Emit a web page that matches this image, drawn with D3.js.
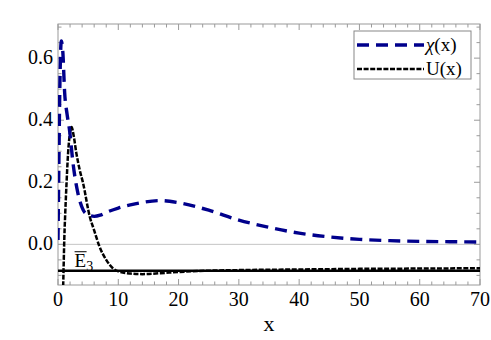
<!DOCTYPE html>
<html>
<head>
<meta charset="utf-8">
<script src="https://cdn.jsdelivr.net/npm/d3@7"></script>
<style>
  body { margin: 0; background: #fff; }
</style>
</head>
<body>
<div id="chart"></div>
<script>
// chi(x)
const chiX = [0, 0.15, 0.3, 0.55, 0.8, 1.1, 1.5, 1.9, 2.5, 3.3, 4.2, 5, 6, 7, 8, 10, 12, 14, 17, 20, 25, 30, 35, 40, 45, 50, 55, 60, 65, 70];
const chiY = [0.014, 0.27, 0.5, 0.655, 0.62, 0.49, 0.42, 0.37, 0.26, 0.165, 0.11, 0.095, 0.09, 0.094, 0.103, 0.117, 0.127, 0.135, 0.141, 0.134, 0.11, 0.078, 0.055, 0.036, 0.024, 0.016, 0.012, 0.0097, 0.0085, 0.0074];

// U(x)
const uX = [0.75, 0.9, 1.05, 1.2, 1.4, 1.66, 2.0, 2.25, 2.6, 3.05, 3.6, 4.15, 5.27, 6.0, 6.9, 8, 9.1, 10, 12, 14, 17, 20, 25, 30, 40, 50, 60, 70];
const uY = [-0.22, -0.1, 0.02, 0.1, 0.19, 0.29, 0.36, 0.378, 0.35, 0.293, 0.24, 0.198, 0.089, 0.045, -0.008, -0.05, -0.077, -0.087, -0.094, -0.096, -0.093, -0.089, -0.085, -0.083, -0.081, -0.079, -0.078, -0.077];

const e3 = -0.085;
const xTicks = [0, 10, 20, 30, 40, 50, 60, 70];
const yTicks = [0.0, 0.2, 0.4, 0.6];
const legendNames = ['\u03C7', 'U'];

const W = 491, H = 340;
const margin = { top: 24, right: 11, bottom: 55, left: 58 };
const width = W - margin.left - margin.right;
const height = H - margin.top - margin.bottom;
const serif = 'Liberation Serif';

const x = d3.scaleLinear().domain([0, 70]).range([0, width]);
const y = d3.scaleLinear().domain([-0.131, 0.71]).range([height, 0]);

const svg = d3.select('#chart').append('svg')
  .attr('width', W).attr('height', H);
const g = svg.append('g').attr('transform', `translate(${margin.left},${margin.top})`);

g.append('clipPath').attr('id', 'clip')
  .append('rect').attr('width', width).attr('height', height);

// zero line
g.append('line')
  .attr('x1', 0).attr('x2', width)
  .attr('y1', y(0)).attr('y2', y(0))
  .attr('stroke', '#c4c4c4').attr('stroke-width', 1);

const frameColor = '#9a9a9a';
const minorX = d3.range(0, 70.01, 2);
const minorY = d3.range(-0.1, 0.701, 0.05).map(v => +v.toFixed(2));

// ticks on all four sides, pointing inward
function tickLen(major) { return major ? 6 : 3.5; }
minorX.forEach(v => {
  const major = v % 10 === 0;
  g.append('line').attr('x1', x(v)).attr('x2', x(v))
    .attr('y1', height).attr('y2', height - tickLen(major))
    .attr('stroke', frameColor);
  g.append('line').attr('x1', x(v)).attr('x2', x(v))
    .attr('y1', 0).attr('y2', tickLen(major))
    .attr('stroke', frameColor);
});
minorY.forEach(v => {
  const major = Math.abs(Math.round(v * 10) - v * 10) < 1e-6 && Math.round(v * 10) % 2 === 0;
  g.append('line').attr('y1', y(v)).attr('y2', y(v))
    .attr('x1', 0).attr('x2', tickLen(major))
    .attr('stroke', frameColor);
  g.append('line').attr('y1', y(v)).attr('y2', y(v))
    .attr('x1', width).attr('x2', width - tickLen(major))
    .attr('stroke', frameColor);
});

// frame
g.append('rect').attr('width', width).attr('height', height)
  .attr('fill', 'none').attr('stroke', frameColor).attr('stroke-width', 1);

// tick labels
g.selectAll('.xl').data(xTicks).enter().append('text')
  .attr('font-family', serif)
  .attr('x', d => x(d)).attr('y', height + 21)
  .attr('text-anchor', 'middle').attr('font-size', 20)
  .text(d => d);
g.selectAll('.yl').data(yTicks).enter().append('text')
  .attr('font-family', serif)
  .attr('x', -5).attr('y', d => y(d) + 6)
  .attr('text-anchor', 'end').attr('font-size', 20)
  .text(d => d3.format('.1f')(d));

g.append('text').attr('font-family', serif)
  .attr('x', width / 2).attr('y', height + 46)
  .attr('text-anchor', 'middle').attr('font-size', 22).text('x');

const plot = g.append('g').attr('clip-path', 'url(#clip)');

// E3 level
plot.append('line')
  .attr('x1', 0).attr('x2', width)
  .attr('y1', y(e3)).attr('y2', y(e3))
  .attr('stroke', '#000').attr('stroke-width', 2.4);

const line = d3.line().x(d => x(d[0])).y(d => y(d[1])).curve(d3.curveMonotoneX);

plot.append('path')
  .datum(d3.zip(uX, uY))
  .attr('d', line)
  .attr('fill', 'none').attr('stroke', '#000')
  .attr('stroke-width', 2.5).attr('stroke-dasharray', '5,1.6');

plot.append('path')
  .datum(d3.zip(chiX, chiY))
  .attr('d', line)
  .attr('fill', 'none').attr('stroke', '#00008c')
  .attr('stroke-width', 3.4).attr('stroke-dasharray', '12,7');

// E3 label
const lab = g.append('text').attr('font-family', serif)
  .attr('x', x(2.75)).attr('y', y(e3) - 4).attr('font-size', 19);
lab.append('tspan').text('E');
lab.append('tspan').attr('dy', 4).attr('font-size', 14).text('3');
g.append('line')
  .attr('x1', x(2.75)).attr('x2', x(2.75) + 12)
  .attr('y1', y(e3) - 19).attr('y2', y(e3) - 19)
  .attr('stroke', '#000').attr('stroke-width', 1);

// legend
const lg = svg.append('g').attr('transform', 'translate(354,31)');
lg.append('rect').attr('width', 117).attr('height', 48)
  .attr('fill', '#fff').attr('stroke', '#888').attr('stroke-width', 1);
const legStyles = [
  { color: '#00008c', w: 3.4, dash: '12,7', italic: true },
  { color: '#000', w: 2.5, dash: '5,1.6', italic: false }
];
legendNames.forEach((name, i) => {
  const yy = 14 + i * 24;
  lg.append('line').attr('x1', 3).attr('x2', 70)
    .attr('y1', yy).attr('y2', yy)
    .attr('stroke', legStyles[i].color).attr('stroke-width', legStyles[i].w)
    .attr('stroke-dasharray', legStyles[i].dash);
  const t = lg.append('text').attr('font-family', serif)
    .attr('x', 72).attr('y', yy + 6).attr('font-size', 19);
  t.append('tspan').attr('font-style', legStyles[i].italic ? 'italic' : 'normal').text(name);
  t.append('tspan').text('(x)');
});
</script>
</body>
</html>
